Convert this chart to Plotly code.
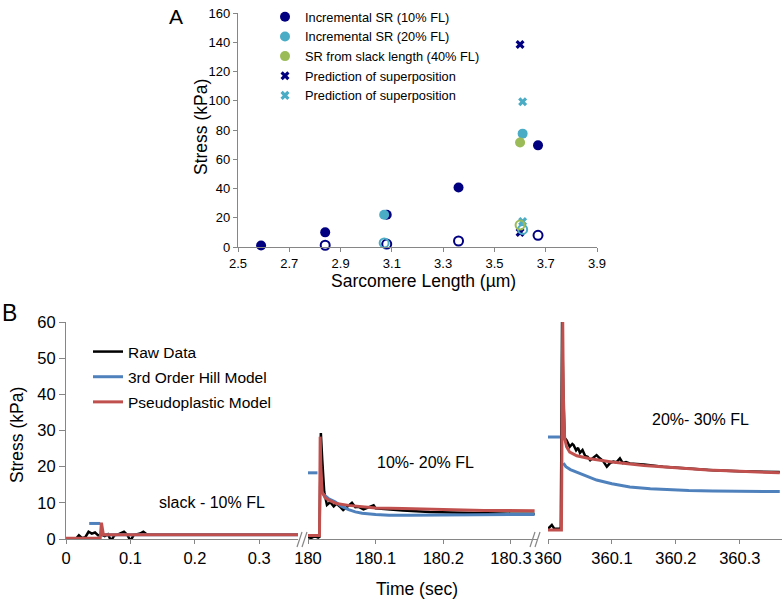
import plotly.graph_objects as go

W, H = 782, 604
FONT = "Arial, Liberation Sans, sans-serif"
AXC = "#868686"

# ---------------- Panel A data ----------------
sl_inc10 = [2.59, 2.84, 3.08, 3.36, 3.67]
st_inc10 = [1.0, 10.0, 22.0, 40.7, 69.5]
sl_inc10_open = [2.84, 3.08, 3.36, 3.67]
st_inc10_open = [1.2, 2.0, 4.1, 8.0]
sl_inc20 = [3.07, 3.61]
st_inc20 = [22.0, 77.5]
sl_inc20_open = [3.07, 3.61]
st_inc20_open = [2.8, 12.0]
sl_slack40 = [3.60]
st_slack40 = [71.5]
sl_slack40_open = [3.60]
st_slack40_open = [15.0]
sl_pred10 = [3.60, 3.60]
st_pred10 = [138.5, 10.0]
sl_pred20 = [3.61, 3.61]
st_pred20 = [99.3, 17.5]

a_xticks = [2.5, 2.7, 2.9, 3.1, 3.3, 3.5, 3.7, 3.9]
a_xticklabels = ["2.5", "2.7", "2.9", "3.1", "3.3", "3.5", "3.7", "3.9"]
a_yticks = [0, 20, 40, 60, 80, 100, 120, 140, 160]

# ---------------- Panel B data ----------------
# segment 1: slack - 10% FL
raw1_t = [0.0, 0.015, 0.02, 0.025, 0.03, 0.035, 0.04, 0.045, 0.05, 0.055, 0.06, 0.065,
          0.07, 0.075, 0.08, 0.085, 0.09, 0.095, 0.10, 0.105, 0.11, 0.115, 0.12, 0.125,
          0.13, 0.36]
raw1_v = [0.0, 0.0, 1.0, 0.2, 0.5, 2.0, 1.5, 1.8, 1.0, 1.2, 0.8, 1.3,
          -0.5, 1.0, 1.2, 1.5, 2.0, 1.2, -0.5, 1.1, 1.3, 1.5, 2.0, 1.3,
          1.2, 1.2]
hill1_t = [0.036, 0.053, None, 0.058, 0.36]
hill1_v = [4.3, 4.3, None, 1.2, 1.2]
pseudo1_t = [0.0, 0.053, 0.055, 0.058, 0.36]
pseudo1_v = [0.2, 0.2, 4.5, 1.2, 1.2]

# segment 2: 10% - 20% FL
raw2_t = [180.0, 180.005, 180.010, 180.015, 180.017, 180.018, 180.019, 180.021, 180.024,
          180.028, 180.033, 180.038, 180.042, 180.047, 180.052, 180.056, 180.060, 180.065,
          180.070, 180.075, 180.082, 180.088, 180.093, 180.097, 180.10, 180.12, 180.14,
          180.18, 180.24, 180.30, 180.335]
raw2_v = [0.5, 0.3, 0.8, 0.4, 0.6, 28.0, 29.3, 22.0, 13.0,
          9.4, 10.2, 9.0, 9.8, 9.0, 8.0, 8.6, 9.2, 10.0,
          8.8, 8.9, 8.2, 8.7, 9.0, 9.3, 8.5, 8.1, 7.9,
          7.5, 7.2, 7.0, 7.0]
hill2_t = [180.0, 180.014, None, 180.019, 180.022, 180.03, 180.04, 180.05, 180.06, 180.07,
           180.08, 180.10, 180.12, 180.15, 180.20, 180.25, 180.30, 180.335]
hill2_v = [18.3, 18.3, None, 13.5, 12.5, 11.2, 10.3, 9.0, 8.1, 7.5,
           7.1, 6.8, 6.6, 6.6, 6.6, 6.7, 6.8, 6.8]
pseudo2_t = [180.0, 180.017, 180.018, 180.019, 180.021, 180.025, 180.03, 180.042, 180.06,
             180.08, 180.10, 180.14, 180.20, 180.26, 180.335]
pseudo2_v = [1.0, 1.0, 28.3, 20.0, 13.0, 11.5, 10.8, 9.8, 9.3,
             8.9, 8.6, 8.4, 8.1, 7.9, 7.8]

# segment 3: 20% - 30% FL
raw3_t = [360.0, 360.006, 360.01, 360.015, 360.02, 360.021, 360.022, 360.024, 360.026,
          360.029, 360.034, 360.038, 360.040, 360.044, 360.047, 360.050, 360.054, 360.058,
          360.062, 360.066, 360.071, 360.076, 360.081, 360.086, 360.092, 360.097, 360.102,
          360.107, 360.1125, 360.117, 360.122, 360.128, 360.15, 360.18, 360.22, 360.258,
          360.30, 360.3625]
raw3_v = [2.8, 3.9, 2.8, 2.7, 2.8, 30.0, 61.0, 40.0, 28.0,
          27.3, 25.5, 26.3, 26.0, 24.5, 25.2, 23.8, 24.6, 23.0,
          22.7, 21.8, 22.5, 23.2, 22.3, 21.6, 20.0, 21.0, 21.4,
          21.2, 22.3, 21.0, 21.3, 20.9, 20.6, 20.0, 19.5, 19.0,
          18.7, 18.5]
hill3_t = [360.0, 360.019, None, 360.024, 360.028, 360.035, 360.05, 360.076, 360.10,
           360.128, 360.16, 360.18, 360.22, 360.258, 360.30, 360.3625]
hill3_v = [28.2, 28.2, None, 21.0, 20.0, 19.2, 18.1, 16.3, 15.3,
           14.4, 13.9, 13.7, 13.4, 13.3, 13.2, 13.1]
pseudo3_t = [360.0, 360.021, 360.023, 360.024, 360.026, 360.029, 360.034, 360.045, 360.066,
             360.10, 360.15, 360.20, 360.25, 360.30, 360.3625]
pseudo3_v = [2.5, 2.5, 61.0, 40.0, 28.0, 25.5, 24.0, 23.0, 22.2,
             21.3, 20.3, 19.6, 19.1, 18.7, 18.3]

b_seg_ticks = [[0, 0.1, 0.2, 0.3], [180, 180.1, 180.2, 180.3], [360, 360.1, 360.2, 360.3]]
b_seg_ticklabels = [["0", "0.1", "0.2", "0.3"], ["180", "180.1", "180.2", "180.3"],
                    ["360", "360.1", "360.2", "360.3"]]
b_yticks = [0, 10, 20, 30, 40, 50, 60]

NAVY = "#000080"
AQUA = "#4BACC6"
GREEN = "#9BBB59"
BLUE = "#4F81BD"
RED = "#C0504D"

fig = go.Figure()

# ---- Panel A traces ----
def a_trace(x, y, name, color, symbol, size, show, lw=0):
    return go.Scatter(x=x, y=y, mode="markers", name=name, showlegend=show,
                      marker=dict(color=color, symbol=symbol, size=size,
                                  line=dict(color=color, width=lw)),
                      xaxis="x", yaxis="y", legend="legend", cliponaxis=False)

fig.add_trace(a_trace(sl_inc10, st_inc10, "Incremental SR (10% FL)", NAVY, "circle", 10, True))
fig.add_trace(a_trace(sl_inc20, st_inc20, "Incremental SR (20% FL)", AQUA, "circle", 10, True))
fig.add_trace(a_trace(sl_slack40, st_slack40, "SR from slack length (40% FL)", GREEN, "circle", 10, True))
fig.add_trace(a_trace(sl_pred10, st_pred10, "Prediction of superposition", NAVY, "x", 8, True))
fig.add_trace(a_trace(sl_pred20, st_pred20, "Prediction of superposition", AQUA, "x", 8, True))
fig.add_trace(a_trace(sl_inc10_open, st_inc10_open, "open 10", NAVY, "circle-open", 9, False, 2))
fig.add_trace(a_trace(sl_inc20_open, st_inc20_open, "open 20", AQUA, "circle-open", 9, False, 2))
fig.add_trace(a_trace(sl_slack40_open, st_slack40_open, "open 40", GREEN, "circle-open", 9, False, 2))

# ---- Panel B traces ----
xaxes_b = ["x2", "x3", "x4"]
raw_ts = [raw1_t, raw2_t, raw3_t]
raw_vs = [raw1_v, raw2_v, raw3_v]
hill_ts = [hill1_t, hill2_t, hill3_t]
hill_vs = [hill1_v, hill2_v, hill3_v]
ps_ts = [pseudo1_t, pseudo2_t, pseudo3_t]
ps_vs = [pseudo1_v, pseudo2_v, pseudo3_v]

for name, color, width, ts, vs, grp in [
    ("Raw Data", "black", 2.5, raw_ts, raw_vs, "raw"),
    ("3rd Order Hill Model", BLUE, 3, hill_ts, hill_vs, "hill"),
    ("Pseudoplastic Model", RED, 3, ps_ts, ps_vs, "ps"),
]:
    for i in range(3):
        fig.add_trace(go.Scatter(x=ts[i], y=vs[i], mode="lines", name=name,
                                 line=dict(color=color, width=width),
                                 xaxis=xaxes_b[i], yaxis="y2", legend="legend2",
                                 legendgroup=grp, showlegend=(i == 0),
                                 cliponaxis=False))

def axis_common(size):
    return dict(showline=True, linecolor=AXC, linewidth=1.2, ticks="outside",
                tickcolor=AXC, showgrid=False, zeroline=False, automargin=False,
                tickfont=dict(family=FONT, color="black", size=size))

layout = dict(
    template="none",
    width=W, height=H, autosize=False,
    margin=dict(l=0, r=0, t=0, b=0, pad=0),
    paper_bgcolor="white", plot_bgcolor="rgba(0,0,0,0)",
    font=dict(family=FONT, color="black"),
    xaxis=dict(domain=[238 / W, 597 / W], range=[2.5, 3.9], anchor="y",
               tickvals=a_xticks, ticktext=a_xticklabels, ticklen=4, **axis_common(13)),
    yaxis=dict(domain=[1 - 247 / H, 1 - 13 / H], range=[0, 160], anchor="x",
               tickvals=a_yticks, ticklen=4, **axis_common(13)),
    xaxis2=dict(domain=[66 / W, 298 / W], range=[0, 0.36], anchor="y2",
                tickvals=b_seg_ticks[0], ticktext=b_seg_ticklabels[0], ticklen=4,
                **axis_common(16.5)),
    xaxis3=dict(domain=[308 / W, 538 / W], range=[180, 180.34], anchor="y2",
                tickvals=b_seg_ticks[1], ticktext=b_seg_ticklabels[1], ticklen=4,
                **axis_common(16.5)),
    xaxis4=dict(domain=[548 / W, 1.0], range=[360, 360.366], anchor="y2",
                tickvals=b_seg_ticks[2], ticktext=b_seg_ticklabels[2], ticklen=4,
                **axis_common(16.5)),
    yaxis2=dict(domain=[1 - 539 / H, 1 - 322 / H], range=[0, 60], anchor="x2",
                tickvals=b_yticks, ticklen=6, **axis_common(16.5)),
    legend=dict(x=265 / W, y=1 - 2 / H, xanchor="left", yanchor="top",
                font=dict(family=FONT, size=12.8, color="black"),
                bgcolor="rgba(0,0,0,0)", borderwidth=0),
    legend2=dict(x=88 / W, y=1 - 335 / H, xanchor="left", yanchor="top",
                 font=dict(family=FONT, size=15.5, color="black"),
                 bgcolor="rgba(0,0,0,0)", borderwidth=0, tracegroupgap=2),
)
fig.update_layout(**layout)

def ann(text, x, y, size, angle=0):
    fig.add_annotation(text=text, x=x / W, y=1 - y / H, xref="paper", yref="paper",
                       showarrow=False, textangle=angle, xanchor="center", yanchor="middle",
                       font=dict(family=FONT, size=size, color="black"))

ann("A", 176, 16, 21)
ann("B", 9, 313, 23)
ann("Sarcomere Length (\u00b5m)", 423, 281, 17.5)
ann("Stress (kPa)", 201, 127, 17.5, -90)
ann("Time (sec)", 417, 589, 17.5)
ann("Stress (kPa)", 17, 435, 17.5, -90)
ann("slack - 10% FL", 212, 502, 16)
ann("10%- 20% FL", 425, 462, 16)
ann("20%- 30% FL", 700, 419, 16)

# axis break marks
for x0 in (297, 302, 530, 535):
    fig.add_shape(type="line", xref="paper", yref="paper",
                  x0=x0 / W, y0=1 - 547 / H, x1=(x0 + 5) / W, y1=1 - 532 / H,
                  line=dict(color=AXC, width=1.2))

fig.write_html("out.html", config={"displayModeBar": False},
               post_script="document.body.style.margin='0';document.body.style.padding='0';")
